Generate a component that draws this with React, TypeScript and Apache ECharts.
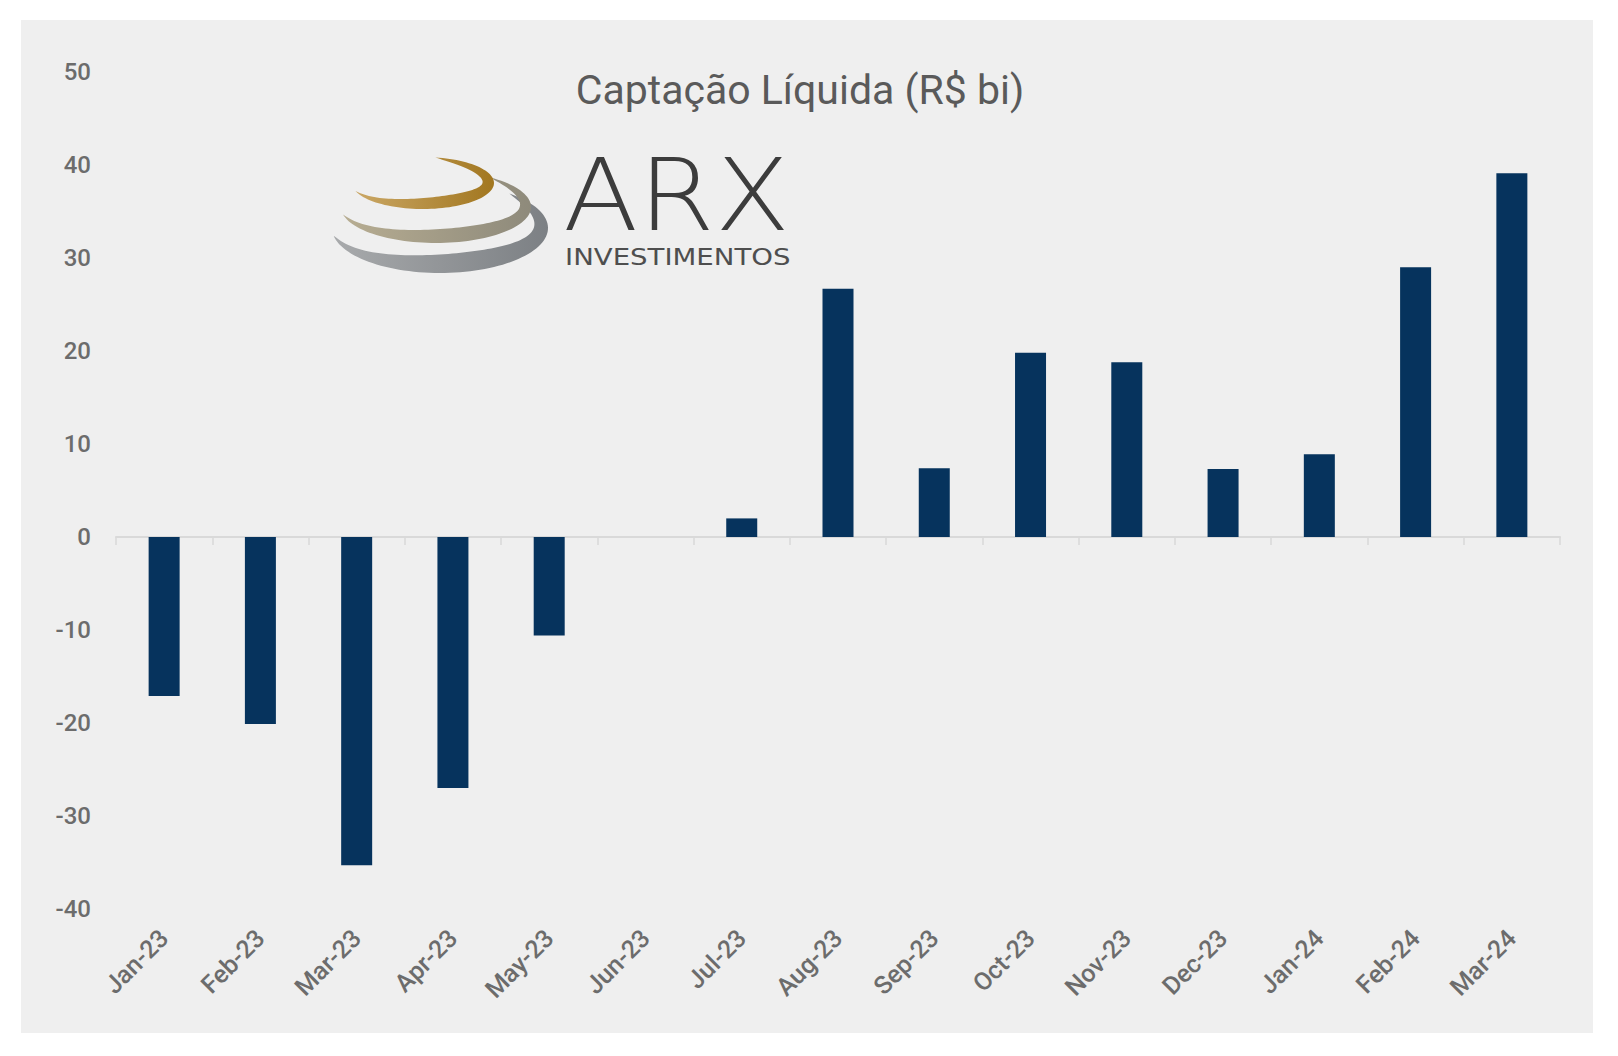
import React, { useEffect, useRef } from 'react'
import * as echarts from 'echarts'

// months on the category axis
const MONTHS = [
  'Jan-23', 'Feb-23', 'Mar-23', 'Apr-23', 'May-23', 'Jun-23', 'Jul-23', 'Aug-23',
  'Sep-23', 'Oct-23', 'Nov-23', 'Dec-23', 'Jan-24', 'Feb-24', 'Mar-24',
]

// net inflow, R$ bi
const NET_FLOWS = [-17.1, -20.1, -35.3, -27.0, -10.6, 0, 2.0, 26.7, 7.4, 19.8, 18.8, 7.3, 8.9, 29.0, 39.1]

const Y_MIN = -40
const Y_MAX = 50
const Y_STEP = 10

const TITLE = 'Captação Líquida (R$ bi)'
const LOGO_WORD = 'ARX'
const LOGO_SUB = 'INVESTIMENTOS'

const BAR_COLOR = '#06335d'
const LABEL_COLOR = '#6c6c6c'

// one swoosh of the logo: an elliptic arc band that tapers at both ends
function crescent(cx: number, cy: number, rx: number, ry: number, a0: number, a1: number, wmax: number) {
  const n = 80
  const outer: number[][] = []
  const inner: number[][] = []
  for (let i = 0; i <= n; i++) {
    const t = i / n
    const a = ((a0 + (a1 - a0) * t) * Math.PI) / 180
    const w = wmax * Math.pow(Math.sin(Math.PI * t), 0.8)
    outer.push([cx + rx * Math.cos(a), cy + ry * Math.sin(a)])
    inner.push([cx + (rx - w) * Math.cos(a), cy + (ry - w) * Math.sin(a)])
  }
  return outer.concat(inner.reverse())
}

function grad(c1: string, c2: string) {
  return new echarts.graphic.LinearGradient(0, 0, 1, 0, [
    { offset: 0, color: c1 },
    { offset: 1, color: c2 },
  ])
}

export default function App() {
  const chartRef = useRef<HTMLDivElement>(null)

  useEffect(() => {
    if (!chartRef.current) return
    const chart = echarts.init(chartRef.current, undefined, { renderer: 'svg' })

    const axisFont = { fontFamily: 'Roboto', fontWeight: 500, color: LABEL_COLOR }

    chart.setOption({
      animation: false,
      backgroundColor: 'transparent',
      grid: { left: 116, right: 58, top: 72, bottom: 147, containLabel: false },
      xAxis: [
        {
          type: 'category',
          data: MONTHS,
          position: 'bottom',
          axisLine: { show: false, onZero: false },
          axisTick: { show: false },
          axisLabel: { ...axisFont, interval: 0, rotate: 45, margin: 25, fontSize: 25 },
        },
        {
          type: 'category',
          data: MONTHS,
          position: 'bottom',
          axisLine: { show: true, onZero: true, lineStyle: { color: '#d9d9d9', width: 2 } },
          axisTick: { show: true, length: 8, lineStyle: { color: '#d9d9d9', width: 1.5 } },
          axisLabel: { show: false },
        },
      ],
      yAxis: {
        type: 'value',
        min: Y_MIN,
        max: Y_MAX,
        interval: Y_STEP,
        axisLine: { show: false },
        axisTick: { show: false },
        splitLine: { show: false },
        axisLabel: { ...axisFont, margin: 25, fontSize: 24 },
      },
      series: [
        {
          type: 'bar',
          xAxisIndex: 0,
          data: NET_FLOWS,
          barWidth: 31,
          itemStyle: { color: BAR_COLOR },
        },
      ],
      graphic: [
        {
          type: 'text',
          x: 800,
          y: 90,
          silent: true,
          style: {
            text: TITLE,
            fontFamily: 'Roboto',
            fontSize: 41,
            fill: '#5a5a5a',
            align: 'center',
            verticalAlign: 'middle',
            textAlign: 'center',
            textVerticalAlign: 'middle',
          },
        },
        {
          type: 'polygon',
          silent: true,
          shape: { points: crescent(440, 228, 108, 45, 170, -50, 20) },
          style: { fill: grad('#a8aaac', '#7c8084') },
        },
        {
          type: 'polygon',
          silent: true,
          shape: { points: crescent(436, 207, 95, 36, 168, -55, 15) },
          style: { fill: grad('#b7ad92', '#8e8a7b') },
        },
        {
          type: 'polygon',
          silent: true,
          shape: { points: crescent(423, 183, 71, 26, 162, -80, 13) },
          style: { fill: grad('#caa765', '#a27720') },
        },
        {
          type: 'text',
          x: 563,
          y: 195,
          scaleX: 1.1,
          silent: true,
          style: {
            text: LOGO_WORD,
            fontFamily: 'DejaVu Sans',
            fontWeight: 200,
            fontSize: 100,
            fill: '#3c3c3c',
            align: 'left',
            verticalAlign: 'middle',
            textAlign: 'left',
            textVerticalAlign: 'middle',
          },
        },
        {
          type: 'text',
          x: 565,
          y: 257,
          scaleX: 1.2,
          silent: true,
          style: {
            text: LOGO_SUB,
            fontFamily: 'DejaVu Sans',
            fontSize: 23,
            fill: '#4e4e4e',
            align: 'left',
            verticalAlign: 'middle',
            textAlign: 'left',
            textVerticalAlign: 'middle',
          },
        },
      ],
    })

    return () => {
      chart.dispose()
    }
  }, [])

  return (
    <div style={{ position: 'fixed', left: 0, top: 0, width: 1618, height: 1056, background: '#ffffff' }}>
      <div
        style={{
          position: 'absolute',
          left: 21,
          top: 20,
          width: 1572,
          height: 1013,
          background: '#efefef',
        }}
      />
      <div ref={chartRef} style={{ position: 'absolute', left: 0, top: 0, width: 1618, height: 1056 }} />
    </div>
  )
}
